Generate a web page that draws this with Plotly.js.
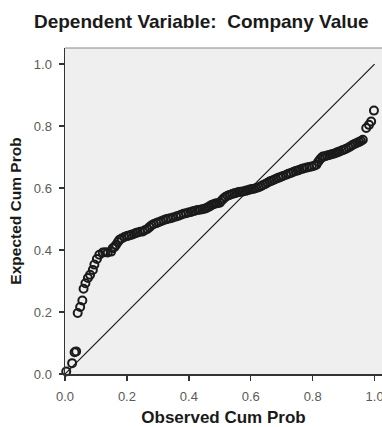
<!DOCTYPE html>
<html>
<head>
<meta charset="utf-8">
<script src="https://cdn.plot.ly/plotly-3.0.1.min.js"></script>
<style>html,body{margin:0;padding:0;background:#fff;overflow:hidden;}</style>
</head>
<body>
<div id="chart" style="width:382px;height:427px;"></div>
<script>
const titleText = "Dependent Variable:  Company Value";
const xTitle = "Observed Cum Prob";
const yTitle = "Expected Cum Prob";
const tickVals = [0.0, 0.2, 0.4, 0.6, 0.8, 1.0];
const tickLabels = ["0.0", "0.2", "0.4", "0.6", "0.8", "1.0"];
const refLineX = [0, 1];
const refLineY = [0, 1];

const observedCumProb = [
0.004,0.023,0.031,0.036,0.041,0.049,0.056,0.060,0.066,0.074,0.081,0.090,0.095,0.103,0.111,0.122,0.130,0.138,0.149,0.154,
0.160,0.165,0.171,0.176,0.183,0.192,0.200,0.207,0.214,0.222,0.229,0.235,0.243,0.251,0.258,0.266,0.273,0.280,0.287,0.295,
0.302,0.310,0.318,0.326,0.333,0.341,0.349,0.359,0.367,0.375,0.383,0.391,0.399,0.407,0.413,0.420,0.428,0.436,0.444,0.450,
0.456,0.462,0.467,0.473,0.480,0.486,0.492,0.500,0.506,0.512,0.518,0.525,0.532,0.540,0.547,0.554,0.561,0.568,0.575,0.583,
0.590,0.597,0.604,0.611,0.618,0.626,0.633,0.640,0.647,0.654,0.661,0.668,0.675,0.682,0.689,0.697,0.704,0.715,0.722,0.730,
0.737,0.745,0.752,0.758,0.766,0.773,0.781,0.789,0.797,0.805,0.812,0.818,0.824,0.830,0.833,0.840,0.847,0.854,0.861,0.868,
0.875,0.881,0.887,0.894,0.901,0.908,0.916,0.923,0.930,0.937,0.944,0.950,0.956,0.962,0.973,0.982,0.989,0.998
];
const expectedCumProb = [
0.008,0.035,0.070,0.073,0.197,0.216,0.237,0.275,0.293,0.310,0.320,0.336,0.353,0.371,0.385,0.392,0.393,0.392,0.395,0.406,
0.410,0.417,0.426,0.433,0.437,0.442,0.445,0.447,0.449,0.452,0.455,0.457,0.459,0.460,0.464,0.468,0.474,0.480,0.484,0.487,
0.490,0.493,0.496,0.499,0.501,0.503,0.505,0.508,0.511,0.514,0.517,0.519,0.521,0.523,0.525,0.527,0.529,0.530,0.532,0.533,
0.535,0.538,0.541,0.545,0.548,0.550,0.551,0.553,0.560,0.566,0.571,0.575,0.578,0.581,0.583,0.585,0.587,0.588,0.589,0.591,
0.593,0.595,0.597,0.598,0.600,0.603,0.606,0.610,0.613,0.617,0.621,0.624,0.627,0.630,0.633,0.636,0.639,0.643,0.646,0.649,
0.652,0.655,0.657,0.659,0.662,0.664,0.666,0.668,0.670,0.672,0.675,0.685,0.693,0.699,0.702,0.703,0.705,0.707,0.709,0.711,
0.713,0.716,0.718,0.721,0.724,0.727,0.731,0.735,0.740,0.743,0.746,0.749,0.752,0.756,0.794,0.804,0.815,0.850
];

const font = "Liberation Sans, Arial, sans-serif";

const traces = [
  {
    x: refLineX, y: refLineY, type: "scatter", mode: "lines",
    line: {color: "#1a1a1a", width: 1.2}, hoverinfo: "skip", cliponaxis: false
  },
  {
    x: observedCumProb, y: expectedCumProb, type: "scatter", mode: "markers",
    marker: {symbol: "circle-open", size: 8, color: "#1a1a1a", line: {width: 2, color: "#1a1a1a"}},
    cliponaxis: false
  }
];

const layout = {
  width: 382, height: 427,
  margin: {l: 65, r: 0, t: 48, b: 53},
  paper_bgcolor: "#ffffff",
  plot_bgcolor: "#efefef",
  showlegend: false,
  font: {family: font, color: "#555555", size: 12},
  title: {
    text: "<b>" + titleText + "</b>",
    font: {family: font, size: 19, color: "#1a1a1a"},
    xref: "container", yref: "container",
    x: 0.527, xanchor: "center", y: 0.951, yanchor: "middle"
  },
  xaxis: {
    range: [0, 1.024], tickvals: tickVals, ticktext: tickLabels,
    ticks: "outside", ticklen: 5, tickwidth: 1.5, tickcolor: "#333333",
    showline: true, linecolor: "#333333", linewidth: 1.5,
    showgrid: false, zeroline: false, ticklabelstandoff: 5,
    ticklabeloverflow: "allow",
    tickfont: {family: font, size: 13, color: "#5a5a5a"},
    title: {text: "<b>" + xTitle + "</b>", font: {family: font, size: 17, color: "#1a1a1a"}, standoff: 10}
  },
  yaxis: {
    range: [0, 1.052], tickvals: tickVals, ticktext: tickLabels,
    ticks: "outside", ticklen: 5, tickwidth: 1.5, tickcolor: "#333333",
    showline: true, linecolor: "#333333", linewidth: 1.5,
    showgrid: false, zeroline: false, ticklabelstandoff: 4,
    tickfont: {family: font, size: 13, color: "#5a5a5a"},
    title: {text: "<b>" + yTitle + "</b>", font: {family: font, size: 15.5, color: "#1a1a1a"}, standoff: 8}
  },
  shapes: [
    {type: "line", xref: "paper", yref: "paper", x0: 0, x1: 1, y0: 1, y1: 1,
     line: {color: "#888888", width: 1}}
  ]
};

Plotly.newPlot("chart", traces, layout, {displayModeBar: false, staticPlot: true});
</script>
</body>
</html>
